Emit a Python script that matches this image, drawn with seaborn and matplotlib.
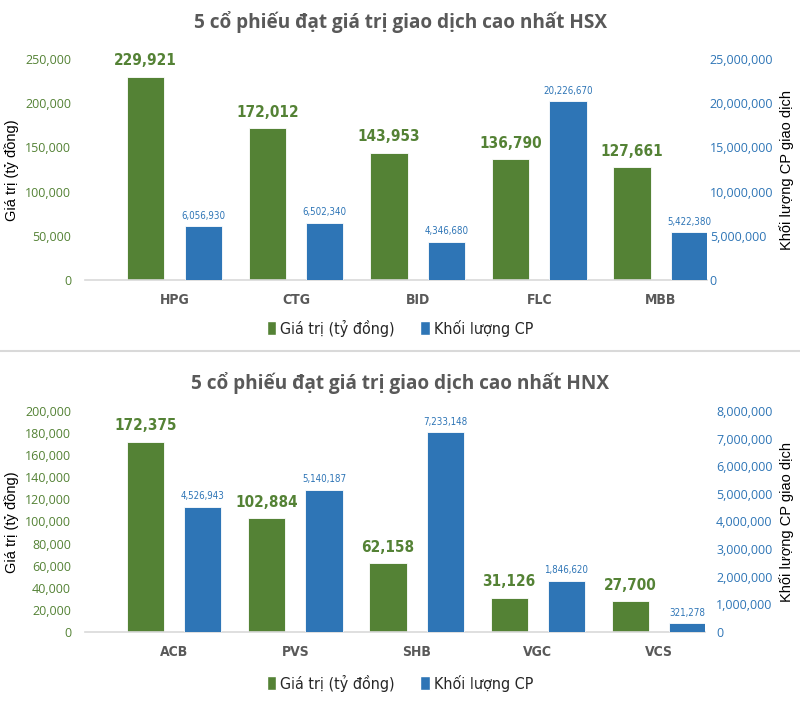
import pandas as pd
import seaborn as sns
import matplotlib.pyplot as plt
from matplotlib.patches import Patch
from matplotlib.lines import Line2D
from matplotlib.ticker import FuncFormatter

# data
hsx_codes = ['HPG', 'CTG', 'BID', 'FLC', 'MBB']
hsx_gia_tri = [229921, 172012, 143953, 136790, 127661]
hsx_khoi_luong = [6056930, 6502340, 4346680, 20226670, 5422380]

hnx_codes = ['ACB', 'PVS', 'SHB', 'VGC', 'VCS']
hnx_gia_tri = [172375, 102884, 62158, 31126, 27700]
hnx_khoi_luong = [4526943, 5140187, 7233148, 1846620, 321278]

hsx_left_ticks = [0, 50000, 100000, 150000, 200000, 250000]
hsx_right_ticks = [0, 5000000, 10000000, 15000000, 20000000, 25000000]
hnx_left_ticks = [0, 20000, 40000, 60000, 80000, 100000, 120000, 140000, 160000, 180000, 200000]
hnx_right_ticks = [0, 1000000, 2000000, 3000000, 4000000, 5000000, 6000000, 7000000, 8000000]

GT = 'Giá trị (tỷ đồng)'
KL = 'Khối lượng CP'
GREEN = '#548235'
BLUE = '#2E75B6'
GRAY = '#595959'
palette = {GT: GREEN, KL: BLUE}

sns.set_theme(style='white')
plt.rcParams['font.family'] = ['Open Sans', 'DejaVu Sans']
NARROW = dict(family='DejaVu Sans', fontstretch='condensed')

fig = plt.figure(figsize=(8, 7.28), dpi=100)

comma = FuncFormatter(lambda v, p: f'{int(v):,}')


def draw_panel(rect, codes, gia_tri, khoi_luong, lticks, rticks, title, title_y,
               legend_y, label_y, rpad):
    df = pd.DataFrame({
        'ma': codes * 2,
        'series': [GT] * len(codes) + [KL] * len(codes),
        'value': gia_tri + khoi_luong,
    })
    ax = fig.add_axes(rect)
    ax2 = ax.twinx()
    sns.barplot(data=df[df['series'] == GT], x='ma', y='value', hue='series',
                hue_order=[GT, KL], order=codes, palette=palette, width=0.945,
                gap=0.35, dodge=True, saturation=1, edgecolor='white',
                linewidth=0.6, legend=False, ax=ax)
    sns.barplot(data=df[df['series'] == KL], x='ma', y='value', hue='series',
                hue_order=[GT, KL], order=codes, palette=palette, width=0.945,
                gap=0.35, dodge=True, saturation=1, edgecolor='white',
                linewidth=0.6, legend=False, ax=ax2)

    ax.set_xlim(-0.736, 4.38)
    ax.set_ylim(0, lticks[-1])
    ax2.set_ylim(0, rticks[-1])
    ax.set_yticks(lticks)
    ax2.set_yticks(rticks)
    ax.yaxis.set_major_formatter(comma)
    ax2.yaxis.set_major_formatter(comma)

    for c in ax.containers:
        ax.bar_label(c, labels=[f'{v:,.0f}' for v in c.datavalues], padding=6,
                     color=GREEN, fontsize=11, fontweight='bold', **NARROW)
    for c in ax2.containers:
        ax2.bar_label(c, labels=[f'{v:,.0f}' for v in c.datavalues], padding=4,
                      color=BLUE, fontsize=7, **NARROW)

    for a in (ax, ax2):
        a.set_xlabel('')
        a.set_ylabel('')
        for s in a.spines.values():
            s.set_visible(False)
        a.grid(False)
    ax.spines['bottom'].set_visible(True)
    ax.spines['bottom'].set_color('#d9d9d9')
    ax.spines['bottom'].set_linewidth(1.2)

    ax.tick_params(axis='y', length=0, pad=10, labelsize=9, labelcolor=GREEN)
    ax2.tick_params(axis='y', length=0, pad=rpad, labelsize=9, labelcolor=BLUE)
    ax.tick_params(axis='x', length=0, pad=9)
    for t in ax.get_xticklabels():
        t.set_family(NARROW['family'])
        t.set_fontstretch('condensed')
        t.set_fontsize(10)
        t.set_fontweight('bold')
        t.set_color(GRAY)
    ax2.tick_params(axis='x', length=0, labelbottom=False)

    fig.text(0.5, title_y, title, ha='center', va='center', fontsize=13.7,
             fontweight='bold', color=GRAY)
    fig.text(12 / 800, label_y, 'Giá trị (tỷ đồng)', rotation=90, ha='center',
             va='center', fontsize=10.5, color='black', family=['Liberation Sans', 'DejaVu Sans'])
    fig.text(787 / 800, label_y, 'Khối lượng CP giao dịch', rotation=90, ha='center',
             va='center', fontsize=10.5, color='black', family=['Liberation Sans', 'DejaVu Sans'])

    handles = [Patch(facecolor=GREEN, label=GT), Patch(facecolor=BLUE, label=KL)]
    fig.legend(handles=handles, loc='center', bbox_to_anchor=(0.5, legend_y), ncol=2,
               frameon=False, handlelength=0.6, handleheight=0.9, handletextpad=0.25,
               columnspacing=1.6,
               prop={'family': 'DejaVu Sans', 'stretch': 'condensed', 'size': 11.5})


draw_panel([85 / 800, 1 - 280 / 728, 622 / 800, 221 / 728], hsx_codes, hsx_gia_tri,
           hsx_khoi_luong, hsx_left_ticks, hsx_right_ticks,
           '5 cổ phiếu đạt giá trị giao dịch cao nhất HSX', 1 - 22 / 728,
           1 - 328 / 728, 1 - 170 / 728, 2)
draw_panel([85 / 800, 1 - 632 / 728, 620 / 800, 221 / 728], hnx_codes, hnx_gia_tri,
           hnx_khoi_luong, hnx_left_ticks, hnx_right_ticks,
           '5 cổ phiếu đạt giá trị giao dịch cao nhất HNX', 1 - 383 / 728,
           1 - 683 / 728, 1 - 522 / 728, 8)

fig.add_artist(Line2D([0, 1], [1 - 350.5 / 728] * 2, color='#d9d9d9', lw=1.5))

fig.savefig('out.png', dpi=100)
